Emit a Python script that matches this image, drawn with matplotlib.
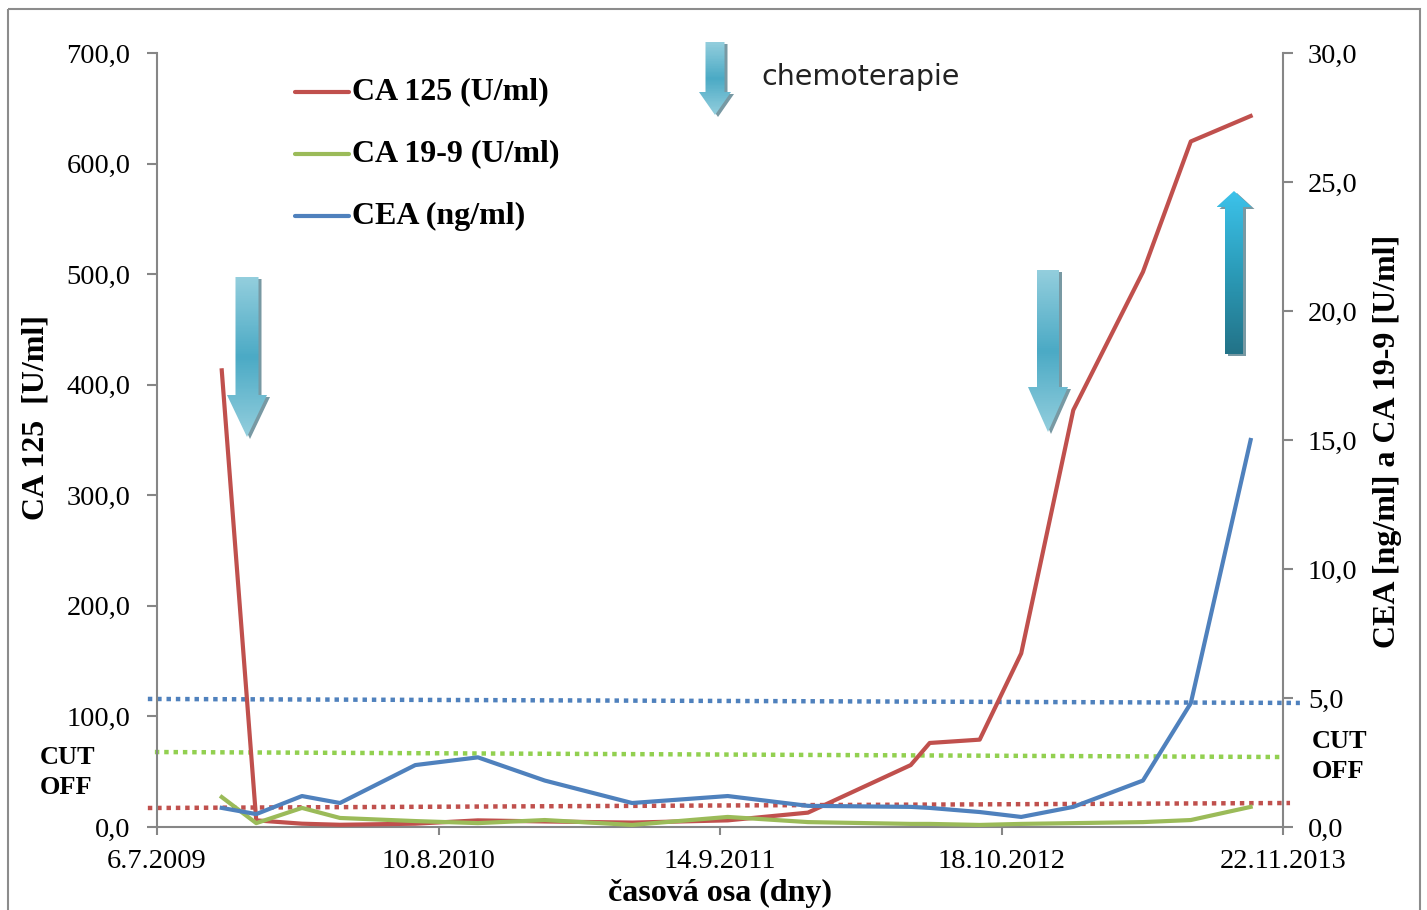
import numpy as np
import pandas as pd
import matplotlib
matplotlib.use('Agg')
import matplotlib.pyplot as plt
from matplotlib.patches import Polygon, Rectangle
from matplotlib.colors import LinearSegmentedColormap

dates = ['2009-10-06', '2009-11-24', '2010-01-28', '2010-03-23', '2010-07-08',
         '2010-10-05', '2011-01-08', '2011-05-12', '2011-09-25', '2012-01-17',
         '2012-06-11', '2012-07-08', '2012-09-17', '2012-11-15', '2013-01-28',
         '2013-05-07', '2013-07-14', '2013-10-07']
ca125 = [413, 6, 3, 2, 3, 6, 5, 4, 6, 13, 56, 76, 79, 157, 377, 502, 620, 643]
ca199 = [1.16, 0.15, 0.74, 0.35, 0.23, 0.15, 0.27, 0.08, 0.39, 0.19,
         0.12, 0.12, 0.08, 0.12, 0.15, 0.19, 0.27, 0.78]
cea = [0.74, 0.50, 1.20, 0.93, 2.40, 2.70, 1.80, 0.93, 1.20, 0.82,
       0.78, 0.74, 0.58, 0.39, 0.78, 1.80, 4.80, 15.0]

tick_dates = ['2009-07-06', '2010-08-10', '2011-09-14', '2012-10-18', '2013-11-22']
tick_labels = ['6.7.2009', '10.8.2010', '14.9.2011', '18.10.2012', '22.11.2013']
left_ticks = np.arange(0, 701, 100)
right_ticks = np.arange(0, 31, 5)

# hand-drawn cut off lines (in left axis units)
cut_cea_x = ['2009-06-23', '2013-12-16']
cut_cea_y = [115.8, 112.2]
cut_ca199_x = ['2009-07-03', '2013-11-18']
cut_ca199_y = [67.8, 63.3]
cut_ca125_x = ['2009-06-23', '2013-12-02']
cut_ca125_y = [17.2, 21.7]

RED = '#C0504D'
GREEN = '#9BBB59'
BLUE = '#4F81BD'
GREY = '#868686'
SERIF = 'Liberation Serif'

W, H = 1427, 910


def px(x, y):
    return x / W, 1 - y / H


fig = plt.figure(figsize=(W / 100, H / 100), dpi=100)
ax = fig.add_axes([157 / W, 83 / H, 1126 / W, 774 / H])
ax2 = ax.twinx()

d = pd.to_datetime(dates)
ax.plot(d, ca125, color=RED, lw=3, zorder=3)
ax2.plot(d, ca199, color=GREEN, lw=3, zorder=3)
ax2.plot(d, cea, color=BLUE, lw=3, zorder=3)

# cut off lines
for xs, ys, c in [(cut_cea_x, cut_cea_y, BLUE), (cut_ca199_x, cut_ca199_y, '#92D050'),
                  (cut_ca125_x, cut_ca125_y, RED)]:
    ax.plot(pd.to_datetime(xs), ys, color=c, lw=3.2, ls=(0, (1, 1.1)),
            clip_on=False, zorder=2)

ax.set_xlim(pd.Timestamp(tick_dates[0]), pd.Timestamp(tick_dates[-1]))
ax.set_ylim(0, 700)
ax2.set_ylim(0, 30)
ax.set_xticks(pd.to_datetime(tick_dates))
ax.set_xticklabels(tick_labels)
ax.set_yticks(left_ticks)
ax.set_yticklabels([f'{v:.1f}'.replace('.', ',') for v in left_ticks])
ax2.set_yticks(right_ticks)
ax2.set_yticklabels([f'{v:.1f}'.replace('.', ',') for v in right_ticks])

for a in (ax, ax2):
    a.spines['top'].set_visible(False)
    for s in a.spines.values():
        s.set_color(GREY)
        s.set_linewidth(1.5)
    a.patch.set_visible(False)
ax2.spines['left'].set_visible(False)
ax2.spines['bottom'].set_visible(False)
ax.spines['right'].set_visible(False)

ax.tick_params(axis='y', length=7, width=1.5, color=GREY, pad=12, labelsize=20.5)
ax.tick_params(axis='x', length=6, width=1.5, color=GREY, pad=10, labelsize=20.5)
ax2.tick_params(axis='y', length=7, width=1.5, color=GREY, pad=11, labelsize=20.5)
for lab in ax.get_xticklabels() + ax.get_yticklabels() + ax2.get_yticklabels():
    lab.set_fontfamily(SERIF)

# axis titles
bold = dict(fontfamily=SERIF, fontweight='bold', fontsize=23)
fig.text(*px(36, 418), 'CA 125  [U/ml]', rotation=90, ha='center', va='center', **bold)
fig.text(*px(1388, 441), 'CEA [ng/ml] a CA 19-9 [U/ml]', rotation=90,
         ha='center', va='center', **bold)
fig.text(*px(720, 893), 'časová osa (dny)', ha='center', va='center', **bold)

cut = dict(fontfamily=SERIF, fontweight='bold', fontsize=19, va='center', ha='left')
fig.text(*px(40, 758), 'CUT', **cut)
fig.text(*px(40, 788), 'OFF', **cut)
fig.text(*px(1312, 742), 'CUT', **cut)
fig.text(*px(1312, 772), 'OFF', **cut)

# overlay in pixel coordinates for legend, arrows and border
ov = fig.add_axes([0, 0, 1, 1], zorder=10)
ov.axis('off')

ov.add_patch(Rectangle((8, 9), 1412, 920, fill=False, ec='#8C8C8C', lw=1.5))

legend_items = [('CA 125 (U/ml)', RED, 92), ('CA 19-9 (U/ml)', GREEN, 154),
                ('CEA (ng/ml)', BLUE, 216)]
for label, c, y in legend_items:
    ov.plot([295, 349], [y, y], color=c, lw=3, solid_capstyle='round')
    ov.text(352, y, label, va='center', ha='left', **bold)

light = LinearSegmentedColormap.from_list('light', ['#93CEDD', '#4BAAC5', '#93CEDD'])
dark = LinearSegmentedColormap.from_list('dark', ['#3CC2EA', '#2B9BB8', '#237388'])


def block_arrow(cx, y_tail, y_tip, sw, hw, hl, cmap):
    s = 1 if y_tip > y_tail else -1
    yb = y_tip - s * hl
    pts = [(cx - sw / 2, y_tail), (cx + sw / 2, y_tail), (cx + sw / 2, yb),
           (cx + hw / 2, yb), (cx, y_tip), (cx - hw / 2, yb), (cx - sw / 2, yb)]
    shadow = Polygon([(x + 3, y + 2) for x, y in pts], closed=True,
                     fc='#1E5566', ec='none', alpha=0.6, zorder=1)
    ov.add_patch(shadow)
    poly = Polygon(pts, closed=True, fc='none', ec='none', zorder=3)
    ov.add_patch(poly)
    grad = np.linspace(0, 1, 100).reshape(-1, 1)
    top, bot = min(y_tail, y_tip), max(y_tail, y_tip)
    im = ov.imshow(grad, cmap=cmap, aspect='auto', origin='upper', zorder=2,
                   extent=(cx - hw / 2, cx + hw / 2, bot, top))
    im.set_clip_path(poly)


block_arrow(247, 277, 437, 23, 40, 42, light)
block_arrow(1048, 270, 432, 22, 40, 45, light)
block_arrow(1234, 354, 191, 18, 35, 16, dark)
block_arrow(715, 42, 115, 19, 32, 23, light)
ov.set_xlim(0, W)
ov.set_ylim(H, 0)

ov.text(761, 85, 'chemoterapie', fontfamily='DejaVu Sans', fontsize=20.5,
        va='baseline', ha='left', color='#222222')

fig.savefig('out.png', dpi=100)
